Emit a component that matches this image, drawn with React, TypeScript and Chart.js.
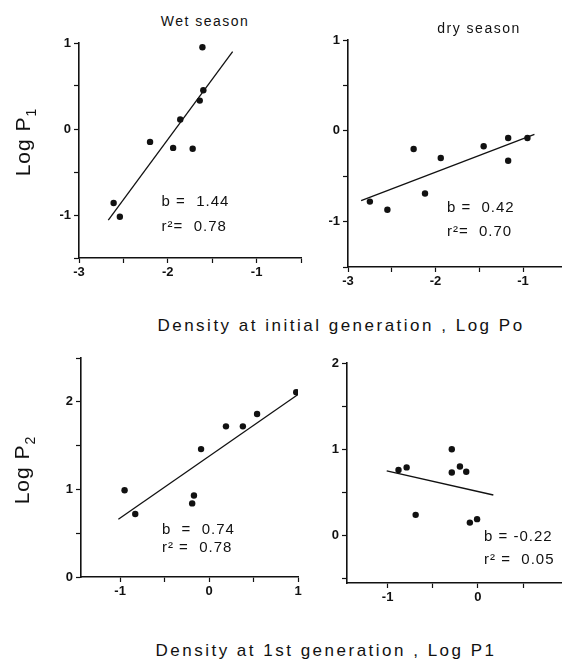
import React, { useEffect, useRef } from "react";
import { Chart, registerables } from "chart.js";

Chart.register(...registerables);

// ---------- DATA ----------
// Panel A: wet season, Log P1 vs Log P0
const wetLogP0 = [-2.61, -2.54, -2.2, -1.94, -1.86, -1.72, -1.64, -1.6, -1.61];
const wetLogP1 = [-0.86, -1.02, -0.15, -0.22, 0.11, -0.23, 0.33, 0.45, 0.95];
const wetFitAX = [-2.67, -1.27];
const wetFitAY = [-1.06, 0.9];

// Panel B: dry season, Log P1 vs Log P0
const dryLogP0 = [-2.75, -2.55, -2.25, -2.12, -1.94, -1.45, -1.17, -1.17, -0.95];
const dryLogP1 = [-0.78, -0.87, -0.2, -0.69, -0.3, -0.17, -0.08, -0.33, -0.08];
const dryFitBX = [-2.85, -0.87];
const dryFitBY = [-0.77, -0.04];

// Panel C: wet season, Log P2 vs Log P1
const wetLogP1b = [-0.95, -0.83, -0.19, -0.17, -0.09, 0.19, 0.38, 0.54, 0.98];
const wetLogP2 = [0.99, 0.72, 0.84, 0.93, 1.46, 1.72, 1.72, 1.86, 2.11];
const wetFitCX = [-1.02, 1.01];
const wetFitCY = [0.66, 2.09];

// Panel D: dry season, Log P2 vs Log P1
const dryLogP1b = [-0.88, -0.79, -0.69, -0.29, -0.29, -0.2, -0.13, -0.09, -0.01];
const dryLogP2 = [0.76, 0.79, 0.24, 1.0, 0.73, 0.8, 0.74, 0.15, 0.19];
const dryFitDX = [-1.01, 0.17];
const dryFitDY = [0.75, 0.47];

// Tick values
const xTicksTop = [-3, -2.5, -2, -1.5, -1, -0.5];
const yTicksTop = [-1.5, -1, -0.5, 0, 0.5, 1];
const xTicksBottom = [-1, -0.5, 0, 0.5, 1];
const yTicksBottomLeft = [0, 0.5, 1, 1.5, 2, 2.5];
const yTicksBottomRight = [-0.5, 0, 0.5, 1, 1.5, 2];

// Statistics text
const statsA = ["b =  1.44", "r\u00b2=  0.78"];
const statsB = ["b =  0.42", "r\u00b2=  0.70"];
const statsC = ["b  =  0.74", "r\u00b2 =  0.78"];
const statsD = ["b = -0.22", "r\u00b2 =  0.05"];

// Text labels
const seasonLabels = ["Wet season", "dry season"];
const xTitleTop = "Density at initial generation , Log Po";
const xTitleBottom = "Density at 1st generation , Log P1";

// ---------- LAYOUT ----------
const FONT = "'Liberation Sans', Arial, Helvetica, sans-serif";
const YW = 40;
const XH = 24;
const PT = 12;
const PR = 8;
const INK = "#111";

type Area = { l: number; t: number; r: number; b: number };
type Panel = {
  xs: number[];
  ys: number[];
  fx: number[];
  fy: number[];
  xMin: number;
  xMax: number;
  yMin: number;
  yMax: number;
  xTicks: number[];
  yTicks: number[];
  area: Area;
  stats: string[];
  statX: number;
  statY: number[];
};

const panels: Panel[] = [
  {
    xs: wetLogP0, ys: wetLogP1, fx: wetFitAX, fy: wetFitAY,
    xMin: -3, xMax: -0.5, yMin: -1.5, yMax: 1,
    xTicks: xTicksTop, yTicks: yTicksTop,
    area: { l: 79, t: 43, r: 301, b: 258 },
    stats: statsA, statX: -2.07, statY: [-0.85, -1.14],
  },
  {
    xs: dryLogP0, ys: dryLogP1, fx: dryFitBX, fy: dryFitBY,
    xMin: -3, xMax: -0.555, yMin: -1.5, yMax: 1,
    xTicks: xTicksTop.slice(0, 5), yTicks: yTicksTop,
    area: { l: 348, t: 40, r: 562, b: 267 },
    stats: statsB, statX: -1.87, statY: [-0.85, -1.11],
  },
  {
    xs: wetLogP1b, ys: wetLogP2, fx: wetFitCX, fy: wetFitCY,
    xMin: -1.44, xMax: 1, yMin: 0, yMax: 2.5,
    xTicks: xTicksBottom, yTicks: yTicksBottomLeft,
    area: { l: 81, t: 358, r: 298, b: 577 },
    stats: statsC, statX: -0.53, statY: [0.54, 0.33],
  },
  {
    xs: dryLogP1b, ys: dryLogP2, fx: dryFitDX, fy: dryFitDY,
    xMin: -1.45, xMax: 0.93, yMin: -0.55, yMax: 2,
    xTicks: xTicksBottom.slice(0, 4), yTicks: yTicksBottomRight,
    area: { l: 347, t: 363, r: 562, b: 583 },
    stats: statsD, statX: 0.067, statY: [-0.02, -0.28],
  },
];

function tickLabel(v: number | string) {
  const n = Number(v);
  return Number.isInteger(n) ? String(n) : "";
}

function PanelChart({ p }: { p: Panel }) {
  const ref = useRef<HTMLCanvasElement>(null);
  const w = p.area.r - p.area.l + YW + PR;
  const h = p.area.b - p.area.t + XH + PT;
  const left = p.area.l - YW;
  const top = p.area.t - PT;

  useEffect(() => {
    const statsPlugin = {
      id: "stats" + p.area.l + "_" + p.area.t,
      afterDatasetsDraw(chart: any) {
        const ctx = chart.ctx;
        const xs = chart.scales.x;
        const ys = chart.scales.y;
        ctx.save();
        ctx.fillStyle = INK;
        ctx.font = `15px ${FONT}`;
        (ctx as any).letterSpacing = "1px";
        ctx.textAlign = "left";
        ctx.textBaseline = "middle";
        p.stats.forEach((s, i) => {
          ctx.fillText(s, xs.getPixelForValue(p.statX), ys.getPixelForValue(p.statY[i]));
        });
        ctx.restore();
      },
    };

    const axisCommon = {
      type: "linear" as const,
      grid: {
        drawOnChartArea: false,
        drawTicks: true,
        tickLength: 5,
        color: INK,
        tickColor: INK,
        tickWidth: 1.2,
      },
      border: { display: true, color: INK, width: 1.6 },
    };

    const chart = new Chart(ref.current as HTMLCanvasElement, {
      type: "scatter",
      data: {
        datasets: [
          {
            data: p.fx.map((x, i) => ({ x, y: p.fy[i] })),
            showLine: true,
            borderColor: INK,
            borderWidth: 1.3,
            pointRadius: 0,
            fill: false,
          },
          {
            data: p.xs.map((x, i) => ({ x, y: p.ys[i] })),
            backgroundColor: INK,
            borderColor: INK,
            pointRadius: 3.2,
            borderWidth: 0,
          },
        ],
      },
      options: {
        responsive: false,
        animation: false,
        devicePixelRatio: 1,
        events: [],
        layout: { padding: { left: 0, top: PT, right: PR, bottom: 0 } },
        plugins: { legend: { display: false }, tooltip: { enabled: false } },
        scales: {
          x: {
            ...axisCommon,
            position: "bottom",
            min: p.xMin,
            max: p.xMax,
            afterFit: (s: any) => {
              s.height = XH;
            },
            afterBuildTicks: (s: any) => {
              s.ticks = p.xTicks.map((v) => ({ value: v }));
            },
            ticks: {
              autoSkip: false,
              maxRotation: 0,
              padding: 2,
              color: INK,
              font: { family: FONT, size: 13, weight: "bold" },
              callback: tickLabel,
            },
          },
          y: {
            ...axisCommon,
            position: "left",
            min: p.yMin,
            max: p.yMax,
            afterFit: (s: any) => {
              s.width = YW;
            },
            afterBuildTicks: (s: any) => {
              s.ticks = p.yTicks.map((v) => ({ value: v }));
            },
            ticks: {
              autoSkip: false,
              padding: 3,
              color: INK,
              font: { family: FONT, size: 13, weight: "bold" },
              callback: tickLabel,
            },
          },
        },
      } as any,
      plugins: [statsPlugin],
    });
    return () => chart.destroy();
  }, []);

  return (
    <canvas
      ref={ref}
      width={w}
      height={h}
      style={{ position: "absolute", left, top, width: w, height: h }}
    />
  );
}

function Label({
  x,
  y,
  size,
  rotate,
  spacing,
  children,
}: {
  x: number;
  y: number;
  size: number;
  rotate?: boolean;
  spacing?: number;
  children: React.ReactNode;
}) {
  return (
    <div
      style={{
        position: "absolute",
        left: x,
        top: y,
        transform: `translate(-50%, -50%)${rotate ? " rotate(-90deg)" : ""}`,
        fontSize: size,
        fontFamily: FONT,
        color: INK,
        whiteSpace: "nowrap",
        letterSpacing: spacing ?? 0,
        lineHeight: 1,
      }}
    >
      {children}
    </div>
  );
}

export default function App() {
  return (
    <div
      style={{
        position: "absolute",
        left: 0,
        top: 0,
        width: 562,
        height: 668,
        overflow: "hidden",
        background: "#fff",
      }}
    >
      {panels.map((p, i) => (
        <PanelChart key={i} p={p} />
      ))}
      <Label x={205} y={21} size={14} spacing={1.5}>
        {seasonLabels[0]}
      </Label>
      <Label x={479} y={28} size={14} spacing={1.5}>
        {seasonLabels[1]}
      </Label>
      <Label x={25} y={142} size={21} rotate spacing={1}>
        Log P<sub style={{ fontSize: 14 }}>1</sub>
      </Label>
      <Label x={24} y={470} size={21} rotate spacing={1}>
        Log P<sub style={{ fontSize: 14 }}>2</sub>
      </Label>
      <Label x={341} y={325} size={17} spacing={2.5}>
        {xTitleTop}
      </Label>
      <Label x={326} y={650} size={17} spacing={2.5}>
        {xTitleBottom}
      </Label>
    </div>
  );
}
